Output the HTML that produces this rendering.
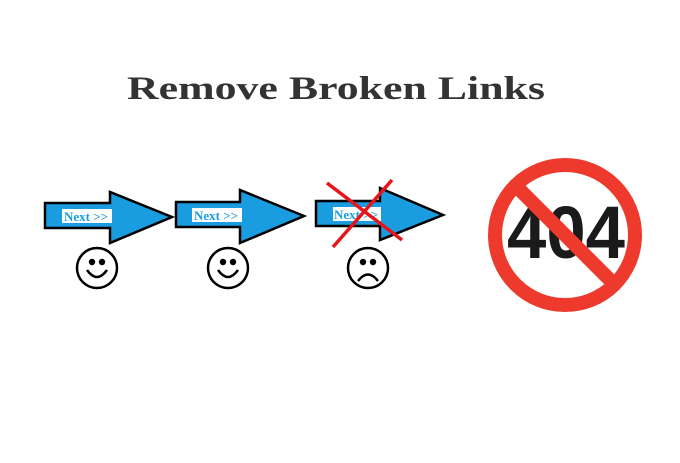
<!DOCTYPE html>
<html><head><meta charset="utf-8"><style>html,body{margin:0;padding:0;background:#fff}</style></head>
<body>
<svg width="680" height="458" viewBox="0 0 680 458" xmlns="http://www.w3.org/2000/svg">
<rect width="680" height="458" fill="#fff"/>
<text x="127" y="99" font-family="Liberation Serif, serif" font-weight="bold" font-size="33" fill="#333" textLength="418" lengthAdjust="spacingAndGlyphs">Remove Broken Links</text>
<g stroke="#000" stroke-width="2.5" fill="#1a9de0" stroke-linejoin="miter">
<polygon points="45,203 110,203 110,192 172,217 110,243 110,228 45,228"/>
<polygon points="176,202 240,202 240,190 304,216 240,243 240,227 176,227"/>
<polygon points="316,201 380,201 380,188 443,215 380,240 380,226 316,226"/>
</g>
<g font-family="Liberation Serif, serif" font-weight="bold" font-size="13" fill="#1a9de0">
<rect x="62" y="209" width="50" height="14" fill="#fff"/><text x="64" y="221">Next &gt;&gt;</text>
<rect x="192" y="208" width="50" height="14" fill="#fff"/><text x="194" y="220">Next &gt;&gt;</text>
<rect x="333" y="207" width="48" height="14" fill="#fff"/><text x="334" y="219">Next &gt;&gt;</text>
</g>
<g stroke="#e8141c" stroke-width="3.5">
<line x1="327" y1="183" x2="402" y2="240"/>
<line x1="392" y1="180" x2="333" y2="247"/>
</g>
<g fill="none" stroke="#000" stroke-width="2.5">
<circle cx="97" cy="268" r="20"/><circle cx="228" cy="268" r="20"/><circle cx="368" cy="268" r="20"/>
<path d="M87,270 Q97,284 107,270"/><path d="M218,270 Q228,284 238,270"/><path d="M358,281 Q368,268 378,281"/>
</g>
<g fill="#000">
<circle cx="92" cy="262" r="3.2"/><circle cx="102" cy="262" r="3.2"/>
<circle cx="223" cy="262" r="3.2"/><circle cx="233" cy="262" r="3.2"/>
<circle cx="363" cy="262" r="3.2"/><circle cx="373" cy="262" r="3.2"/>
</g>
<text x="566" y="258" text-anchor="middle" font-family="Liberation Sans, sans-serif" font-weight="bold" font-size="74" fill="#1a1a1a" textLength="118" lengthAdjust="spacingAndGlyphs">404</text>
<circle cx="565" cy="235" r="70" fill="none" stroke="#ee3a2c" stroke-width="14"/>
<line x1="516" y1="186" x2="614" y2="284" stroke="#ee3a2c" stroke-width="14"/>
</svg>
</body></html>
